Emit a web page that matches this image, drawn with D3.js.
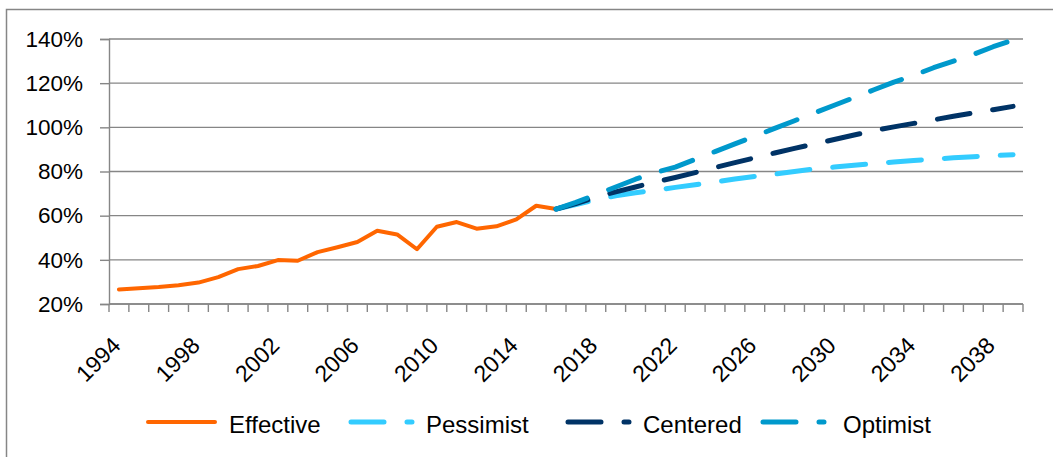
<!DOCTYPE html>
<html>
<head>
<meta charset="utf-8">
<script src="https://cdn.jsdelivr.net/npm/d3@7"></script>
<style>
  body { margin: 0; background: #fff; }
  text { font-family: "Liberation Sans", Arial, sans-serif; fill: #000; }
</style>
</head>
<body>
<div id="chart"></div>
<script>
// categories on the x axis (one band per year)
var years = [1994, 1995, 1996, 1997, 1998, 1999, 2000, 2001, 2002, 2003, 2004, 2005,
    2006, 2007, 2008, 2009, 2010, 2011, 2012, 2013, 2014, 2015, 2016, 2017,
    2018, 2019, 2020, 2021, 2022, 2023, 2024, 2025, 2026, 2027, 2028, 2029,
    2030, 2031, 2032, 2033, 2034, 2035, 2036, 2037, 2038, 2039];
var yearLabels = [1994, 1998, 2002, 2006, 2010, 2014, 2018, 2022, 2026, 2030, 2034, 2038];
var yTicks = [20, 40, 60, 80, 100, 120, 140];

// observed ratio, 1994 - 2016 (%)
var effectiveStart = 1994;
var effective = [26.6, 27.1, 27.7, 28.5, 29.7, 32.2, 35.8, 37.2, 39.9, 39.6, 43.5, 45.7,
    48.1, 53.2, 51.5, 44.8, 55.0, 57.1, 54.1, 55.2, 58.3, 64.5, 63.0];

// scenarios, 2016 - 2039 (%)
var scenarioStart = 2016;
var pessimist = [63.0, 65.0, 67.2, 69.0, 70.4, 71.5, 72.8, 74.0, 75.2, 76.6, 77.8, 78.8,
    80.0, 81.2, 82.0, 82.8, 83.6, 84.3, 85.0, 85.6, 86.2, 86.7, 87.2, 87.6];
var centered = [63.0, 65.5, 68.3, 70.8, 73.0, 75.2, 77.3, 79.5, 81.8, 84.0, 86.2, 88.4,
    90.5, 92.5, 94.5, 96.5, 98.5, 100.2, 101.8, 103.4, 105.0, 106.5, 108.0, 109.5];
var optimist = [63.0, 66.0, 69.5, 73.0, 76.5, 79.5, 82.0, 85.5, 89.0, 92.5, 96.0, 99.5,
    103.0, 106.5, 110.0, 113.5, 117.0, 120.5, 123.5, 127.0, 130.0, 133.0, 136.5, 139.5];

var chartWidth = 1053,
    chartHeight = 457,
    plotLeft = 109,
    plotRight = 1023,
    plotTop = 39,
    plotBottom = 304;

var gridColor = "#868686";

var svg = d3.select("#chart").append("svg")
    .attr("width", chartWidth)
    .attr("height", chartHeight);

// outer frame
svg.append("rect")
    .attr("x", 6.5).attr("y", 9.5)
    .attr("width", 1100).attr("height", 500)
    .attr("fill", "none")
    .attr("stroke", gridColor)
    .attr("stroke-width", 1.5);

var x = d3.scaleBand()
    .domain(years)
    .range([plotLeft, plotRight])
    .padding(0);

var y = d3.scaleLinear()
    .domain([20, 140])
    .range([plotBottom, plotTop]);

function cx(year) { return x(year) + x.bandwidth() / 2; }

// gridlines
svg.append("g").selectAll("line")
    .data(yTicks)
    .enter().append("line")
    .attr("x1", plotLeft).attr("x2", plotRight)
    .attr("y1", function(d) { return y(d); })
    .attr("y2", function(d) { return y(d); })
    .attr("stroke", gridColor)
    .attr("stroke-width", 1.4);

// y axis
var yAxis = svg.append("g")
    .attr("transform", "translate(" + plotLeft + ",0)")
    .call(d3.axisLeft(y)
        .tickValues(yTicks)
        .tickSize(9)
        .tickPadding(17)
        .tickFormat(function(d) { return d + "%"; }));
yAxis.select(".domain").attr("stroke", gridColor).attr("stroke-width", 1.4);
yAxis.selectAll(".tick line").attr("stroke", gridColor).attr("stroke-width", 1.4);
yAxis.selectAll(".tick text")
    .attr("font-size", 22.5)
    .attr("font-family", "Liberation Sans, Arial, sans-serif")
    .attr("fill", "#000");

// x axis: line + ticks on band boundaries
svg.append("line")
    .attr("x1", plotLeft).attr("x2", plotRight)
    .attr("y1", plotBottom).attr("y2", plotBottom)
    .attr("stroke", gridColor).attr("stroke-width", 1.4);

var bounds = years.map(function(d) { return x(d); }).concat([plotRight]);
svg.append("g").selectAll("line")
    .data(bounds)
    .enter().append("line")
    .attr("x1", function(d) { return d; })
    .attr("x2", function(d) { return d; })
    .attr("y1", plotBottom).attr("y2", plotBottom + 8)
    .attr("stroke", gridColor).attr("stroke-width", 1.4);

svg.append("g").selectAll("text")
    .data(yearLabels)
    .enter().append("text")
    .attr("font-size", 23)
    .attr("text-anchor", "end")
    .attr("transform", function(d) {
        return "translate(" + (cx(d) + 3) + "," + (plotBottom + 43) + ") rotate(-45)";
    })
    .text(function(d) { return d; });

// series
var line = d3.line()
    .x(function(d) { return cx(d.year); })
    .y(function(d) { return y(d.value); });

function toPoints(values, start) {
    return values.map(function(v, i) { return { year: start + i, value: v }; });
}

var series = [
    { name: "Effective", values: effective, start: effectiveStart, color: "#ff6600", width: 4, dash: null },
    { name: "Pessimist", values: pessimist, start: scenarioStart, color: "#33ccff", width: 5, dash: "33,23" },
    { name: "Centered", values: centered, start: scenarioStart, color: "#003366", width: 5, dash: "33,23" },
    { name: "Optimist", values: optimist, start: scenarioStart, color: "#0099cc", width: 5, dash: "33,23" }
];

svg.append("g").selectAll("path")
    .data(series)
    .enter().append("path")
    .attr("d", function(d) { return line(toPoints(d.values, d.start)); })
    .attr("fill", "none")
    .attr("stroke", function(d) { return d.color; })
    .attr("stroke-width", function(d) { return d.width; })
    .attr("stroke-linecap", "round")
    .attr("stroke-linejoin", "round")
    .attr("stroke-dasharray", function(d) { return d.dash; });

// legend
var legendY = 422;
var legendPos = [
    { line: 148, text: 229 },
    { line: 351, text: 426 },
    { line: 568, text: 643 },
    { line: 763, text: 843 }
];

var legend = svg.append("g").selectAll("g")
    .data(series)
    .enter().append("g");

legend.append("line")
    .attr("x1", function(d, i) { return legendPos[i].line; })
    .attr("x2", function(d, i) { return legendPos[i].line + (d.dash ? 61 : 67); })
    .attr("y1", legendY).attr("y2", legendY)
    .attr("stroke", function(d) { return d.color; })
    .attr("stroke-width", function(d) { return d.width; })
    .attr("stroke-linecap", "round")
    .attr("stroke-dasharray", function(d) { return d.dash; });

legend.append("text")
    .attr("x", function(d, i) { return legendPos[i].text; })
    .attr("y", legendY + 11)
    .attr("font-size", 24)
    .text(function(d) { return d.name; });
</script>
</body>
</html>
